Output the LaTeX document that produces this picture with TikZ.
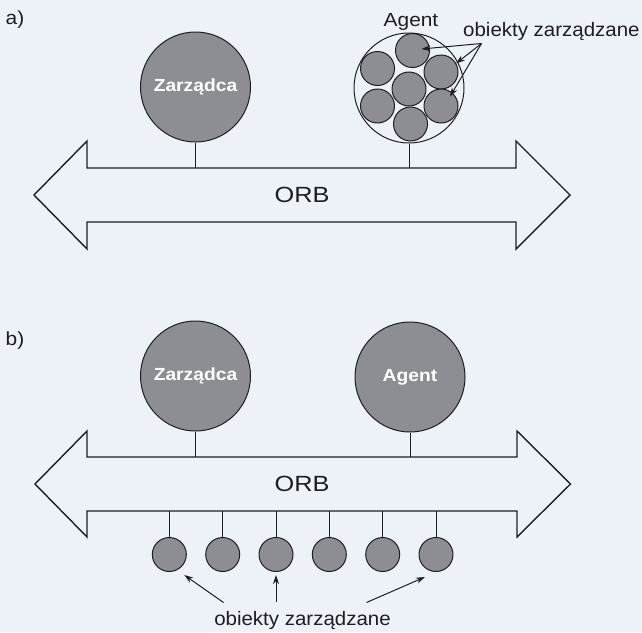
\documentclass[tikz,border=0pt]{standalone}
\usepackage{fontspec}
\setmainfont{Liberation Sans}
\newfontfamily\labelface[FakeStretch=1.1]{Liberation Sans}
\newfontfamily\orbface[FakeStretch=1.15]{Liberation Sans}
\newfontfamily\objface[FakeStretch=1.05]{Liberation Sans}
\usetikzlibrary{arrows.meta,calc}
\definecolor{paper}{RGB}{237,242,248}
\definecolor{ink}{RGB}{30,30,34}
\definecolor{disc}{RGB}{140,142,148}

\begin{document}
\begin{tikzpicture}[x=1pt,y=-1pt,
  bus/.style={draw=ink,line width=1.4pt,line join=miter},
  bigdisc/.style={circle,draw=ink,line width=1pt,fill=disc,minimum size=110pt,inner sep=0pt,
    text=white,font=\labelface\bfseries\fontsize{17.5}{18}\selectfont},
  hollow/.style={circle,draw=ink,line width=1pt,minimum size=110pt,inner sep=0pt},
  objdisc/.style={circle,draw=ink,line width=1pt,fill=disc,minimum size=34pt,inner sep=0pt},
  stem/.style={draw=ink,line width=0.9pt},
  pointer/.style={draw=ink,line width=1pt,-{Stealth[length=9pt,width=6pt]}},
  lbl/.style={inner sep=0pt,text=ink,font=\labelface\fontsize{19}{20}\selectfont},
  orb/.style={inner sep=0pt,text=ink,font=\orbface\fontsize{22}{22}\selectfont},
  objlbl/.style={inner sep=0pt,text=ink,font=\objface\fontsize{19.5}{20}\selectfont}]

% page background
\fill[paper] (0,0) rectangle (642,632);
\useasboundingbox (0,0) rectangle (642,632);

% ---------------- a) ----------------
\node[lbl] (tagA) at (15,20) {a)};

% ORB as a two-headed block arrow
\draw[bus] (87,168) -- (516,168) -- (516,141) -- (570,195) -- (516,249) -- (516,222)
  -- (87,222) -- (87,249) -- (34,195) -- (87,141) -- cycle;
\coordinate (busAtop) at (0,168);
\node[orb] (orbA) at (302,195) {ORB};

\node[bigdisc] (zarA) at (195.5,87) {Zarządca};
\draw[stem] (zarA.south) -- (zarA.south |- busAtop);

% agent holding its managed objects
\node[hollow] (agA) at (409,88) {};
\node[objdisc] (oA1) at (412.5,50.5) {};
\node[objdisc] (oA2) at (377.5,68.5) {};
\node[objdisc] (oA3) at (441,72) {};
\node[objdisc] (oA4) at (409,89) {};
\node[objdisc] (oA5) at (377.5,106) {};
\node[objdisc] (oA6) at (441,106) {};
\node[objdisc] (oA7) at (410.5,124) {};
\draw[stem] (agA.south) -- (agA.south |- busAtop);
\node[lbl] (agAlbl) at (411,22) {Agent};

\node[objlbl,anchor=west] (objA) at (463,31) {obiekty zarządzane};
\coordinate (fork) at (481.5,43.5);
\draw[pointer] (fork) -- ($(oA1)+(9,-1.5)$);
\draw[pointer] (fork) -- ($(oA3)+(15,-8.5)$);
\draw[pointer] (fork) -- ($(oA6)+(9,-9.5)$);

% ---------------- b) ----------------
\node[lbl] (tagB) at (15,341) {b)};

\draw[bus] (87,457) -- (517,457) -- (517,431) -- (570.5,484) -- (517,537) -- (517,511)
  -- (87,511) -- (87,537) -- (35,484) -- (87,431) -- cycle;
\coordinate (busBtop) at (0,457);
\coordinate (busBbot) at (0,511);
\node[orb] (orbB) at (302,484) {ORB};

\node[bigdisc] (zarB) at (195.5,376) {Zarządca};
\node[bigdisc] (agB) at (410,377) {Agent};
\draw[stem] (zarB.south) -- (zarB.south |- busBtop);
\draw[stem] (agB.south) -- (agB.south |- busBtop);

% managed objects hanging from the bus
\foreach \i/\x in {1/169.3,2/222.7,3/276,4/329.3,5/382.7,6/436}{
  \node[objdisc] (oB\i) at (\x,554.5) {};
  \draw[stem] (oB\i.north) -- (oB\i.north |- busBbot);
}

\node[objlbl] (objB) at (302.5,620) {obiekty zarządzane};
\coordinate (tailL) at (223.5,602.5);
\coordinate (tailM) at (276,602);
\coordinate (tailR) at (366.5,602.5);
\draw[pointer] (tailL) -- ($(oB1)+(15,20.5)$);
\draw[pointer] (tailM) -- ($(oB3)+(0,20.5)$);
\draw[pointer] (tailR) -- ($(oB6)+(-11,22.5)$);
\end{tikzpicture}
\end{document}
